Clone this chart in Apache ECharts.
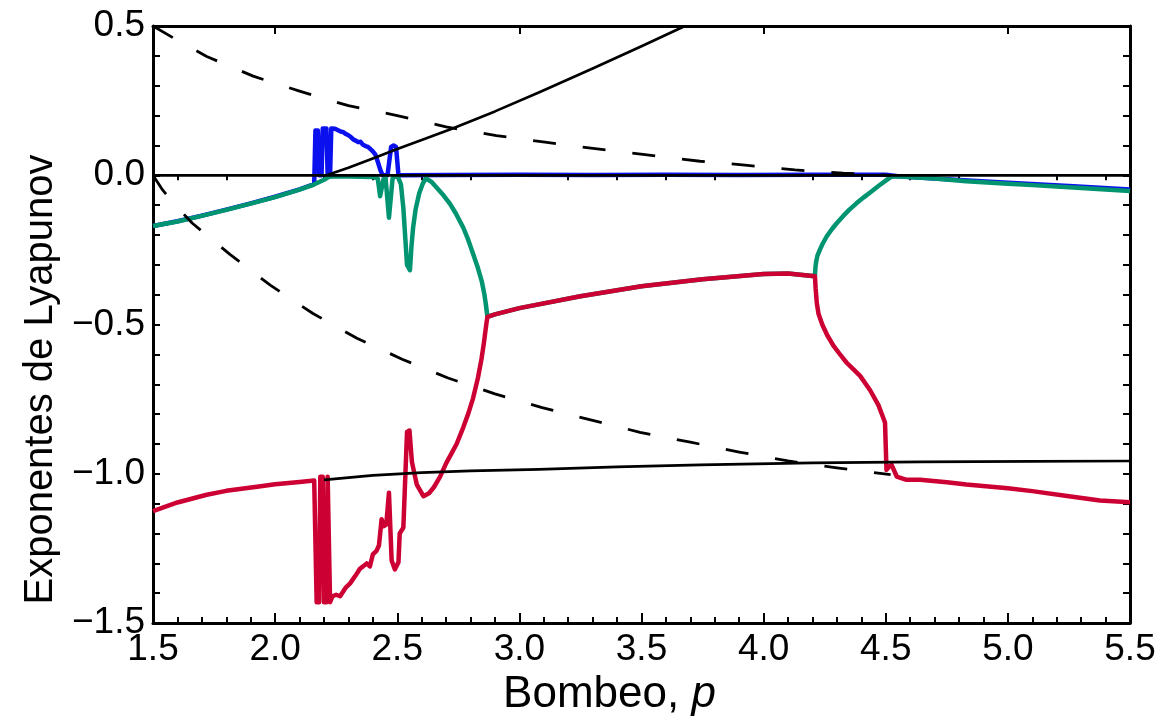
<!DOCTYPE html>
<html>
<head>
<meta charset="utf-8">
<script src="https://cdn.jsdelivr.net/npm/echarts@6/dist/echarts.min.js"></script>
<style>
  html, body { margin: 0; padding: 0; background: #fff; }
  #chart { width: 1164px; height: 722px; }
</style>
</head>
<body>
<div id="chart"></div>
<script>
// exponente 1 (azul)
const blueX = [1.5, 1.6, 1.7, 1.8, 1.9, 2.0, 2.1, 2.16, 2.165, 2.175, 2.18, 2.19, 2.195, 2.21, 2.215, 2.225, 2.23,
  2.245, 2.26, 2.27, 2.28, 2.29, 2.3, 2.31, 2.32, 2.33, 2.34, 2.35, 2.36, 2.37, 2.38, 2.39, 2.4, 2.41, 2.42, 2.43,
  2.44, 2.46, 2.475, 2.485, 2.495, 2.505, 2.7, 3.0, 3.3, 3.6, 3.9, 4.2, 4.5, 4.55, 4.8, 5.0, 5.25, 5.5];
const blueY = [-0.17, -0.154, -0.135, -0.115, -0.094, -0.072, -0.047, -0.03, 0.15, 0.15, 0.0, 0.0, 0.157, 0.157, 0.0, 0.0, 0.157,
  0.156, 0.15, 0.146, 0.144, 0.138, 0.134, 0.128, 0.12, 0.116, 0.111, 0.112, 0.102, 0.098, 0.095, 0.088, 0.08, 0.07, 0.046, 0.02,
  0.0, 0.0, 0.095, 0.1, 0.095, 0.0, 0.001, 0.002, 0.001, 0.002, 0.001, 0.002, 0.002, -0.003, -0.016, -0.025, -0.036, -0.048];

// exponente 2 (verde)
const greenX = [1.5, 1.6, 1.7, 1.8, 1.9, 2.0, 2.1, 2.15, 2.2, 2.22, 2.25, 2.3, 2.35, 2.4, 2.42, 2.43, 2.443, 2.452, 2.466,
  2.481, 2.49, 2.503, 2.515, 2.525, 2.54, 2.552, 2.558, 2.565, 2.575, 2.59, 2.605, 2.617, 2.64, 2.66, 2.69, 2.716, 2.74,
  2.77, 2.79, 2.81, 2.83, 2.846, 2.857, 2.864, 2.869,
  2.9, 3.0, 3.25, 3.5, 3.75, 4.0, 4.1, 4.21, 4.212, 4.215, 4.22, 4.23, 4.24, 4.258, 4.28, 4.3, 4.325, 4.35, 4.38, 4.41,
  4.44, 4.47, 4.5, 4.52, 4.54, 4.7, 4.83, 5.0, 5.1, 5.3, 5.5];
const greenY = [-0.17, -0.155, -0.136, -0.116, -0.095, -0.073, -0.048, -0.034, -0.015, -0.005, -0.003, -0.004, -0.005, -0.006, -0.01, -0.07, -0.015, -0.008, -0.142,
  -0.01, -0.004, -0.006, -0.03, -0.11, -0.3, -0.318, -0.24, -0.175, -0.115, -0.06, -0.027, -0.01, -0.022, -0.04, -0.068, -0.096, -0.128,
  -0.175, -0.215, -0.262, -0.31, -0.355, -0.4, -0.44, -0.474,
  -0.466, -0.445, -0.405, -0.372, -0.348, -0.331, -0.329, -0.338, -0.31, -0.29, -0.27, -0.25, -0.232, -0.205, -0.18, -0.16, -0.137, -0.116, -0.094, -0.074,
  -0.055, -0.036, -0.018, -0.006, -0.003, -0.011, -0.02, -0.028, -0.033, -0.043, -0.053];

// exponente 3 (rojo)
const redX = [1.5, 1.6, 1.72, 1.8, 1.926, 2.0, 2.1, 2.16, 2.17, 2.18, 2.185, 2.195, 2.2, 2.21, 2.215, 2.22, 2.225, 2.235,
  2.25, 2.266, 2.29, 2.307, 2.33, 2.347, 2.36, 2.375, 2.388, 2.4, 2.415, 2.425, 2.436, 2.445, 2.455, 2.466, 2.477, 2.49,
  2.505, 2.51, 2.525, 2.54, 2.55, 2.56, 2.58, 2.607, 2.63, 2.65, 2.675, 2.7, 2.72, 2.743, 2.77, 2.79, 2.81, 2.83, 2.845,
  2.855, 2.862, 2.869,
  2.9, 3.0, 3.25, 3.5, 3.75, 4.0, 4.1, 4.21, 4.213, 4.218, 4.225, 4.24, 4.26, 4.285, 4.31, 4.34, 4.37, 4.395, 4.436, 4.47,
  4.497, 4.503, 4.515, 4.524, 4.545, 4.585, 4.64, 4.75, 4.83, 5.0, 5.1, 5.25, 5.377, 5.5];
const redY = [-1.125, -1.096, -1.07, -1.057, -1.043, -1.035, -1.027, -1.022, -1.43, -1.43, -1.01, -1.01, -1.43, -1.43, -1.01, -1.01, -1.43, -1.41,
  -1.405, -1.41, -1.38, -1.367, -1.34, -1.318, -1.31, -1.3, -1.31, -1.27, -1.258, -1.24, -1.152, -1.175, -1.17, -1.063, -1.29, -1.32,
  -1.296, -1.2, -1.18, -0.86, -0.855, -0.96, -1.036, -1.075, -1.065, -1.045, -1.01, -0.965, -0.935, -0.9, -0.845, -0.8, -0.748, -0.68, -0.615,
  -0.56, -0.515, -0.474,
  -0.466, -0.445, -0.405, -0.372, -0.348, -0.331, -0.329, -0.338, -0.38, -0.43, -0.465, -0.5, -0.535, -0.57, -0.597, -0.628, -0.652, -0.672, -0.72, -0.77,
  -0.828, -0.987, -0.975, -0.97, -1.009, -1.02, -1.02, -1.028, -1.036, -1.048, -1.058, -1.075, -1.089, -1.095];

// curvas de referencia (negras)
const upperSolidX = [2.21, 2.3, 2.4, 2.5, 2.6, 2.724, 2.9, 3.084, 3.3, 3.5, 3.678];
const upperSolidY = [0.0, 0.025, 0.056, 0.088, 0.118, 0.156, 0.214, 0.279, 0.358, 0.432, 0.5];
const lowerSolidX = [2.2, 2.4, 2.6, 2.8, 3.08, 3.4, 3.74, 4.2, 4.64, 5.1, 5.5];
const lowerSolidY = [-1.02, -1.005, -0.996, -0.99, -0.985, -0.977, -0.97, -0.963, -0.96, -0.958, -0.957];
const upperDashX = [1.5, 1.6, 1.72, 1.91, 2.1, 2.3, 2.5, 2.7, 2.906, 3.105, 3.31, 3.506, 3.74, 3.924, 4.128, 4.326, 4.52];
const upperDashY = [0.5, 0.452, 0.398, 0.332, 0.282, 0.233, 0.2, 0.162, 0.133, 0.111, 0.089, 0.07, 0.047, 0.034, 0.018, 0.007, 0.0];
const lowerDashX = [1.5, 1.54, 1.58, 1.62, 1.66, 1.815, 1.98, 2.155, 2.335, 2.52, 2.708, 2.9, 3.093, 3.3, 3.494, 3.7, 3.9, 4.1, 4.3, 4.52];
const lowerDashY = [0.0, -0.05, -0.09, -0.125, -0.16, -0.265, -0.368, -0.463, -0.546, -0.616, -0.679, -0.732, -0.778, -0.821, -0.861, -0.894, -0.927, -0.957, -0.98, -1.003];
const zeroX = [1.5, 5.5];
const zeroY = [0, 0];

const topMajor = [2, 3, 4, 5];
const topMinor = [1.6, 1.8, 2.2, 2.4, 2.6, 2.8, 3.2, 3.4, 3.6, 3.8, 4.2, 4.4, 4.6, 4.8, 5.2, 5.4];

const zip = (xs, ys) => xs.map((x, i) => [x, ys[i]]);
const FONT = "'Liberation Sans', Arial, sans-serif";

let chart = echarts.init(document.getElementById("chart"), null, { renderer: "canvas" });

const frame = { show: true, onZero: false, lineStyle: { color: "#000", width: 3 } };

function curve(name, xs, ys, color, width, type) {
  return {
    name,
    type: "line",
    data: zip(xs, ys),
    symbol: "none",
    smooth: false,
    clip: true,
    lineStyle: { color, width, type: type || "solid", cap: "butt", join: "round" },
    emphasis: { disabled: true }
  };
}

let option = {
  animation: false,
  backgroundColor: "#fff",
  grid: { left: 153, right: 34, top: 26, bottom: 92 },
  xAxis: [
    {
      type: "value", position: "bottom", min: 1.5, max: 5.5, interval: 0.5,
      axisLine: frame,
      axisTick: { inside: true, length: 10, lineStyle: { color: "#000", width: 2 } },
      minorTick: { show: true, splitNumber: 5, length: 6, lineStyle: { color: "#000", width: 2 } },
      splitLine: { show: false },
      axisLabel: { fontSize: 37, color: "#000", fontFamily: FONT, margin: 8, formatter: v => v.toFixed(1) },
      name: "Bombeo, {i|p}",
      nameLocation: "middle",
      nameGap: 38,
      nameTextStyle: {
        fontSize: 44, color: "#000", fontFamily: FONT, padding: [0, 64, 0, 0],
        rich: { i: { fontSize: 44, fontStyle: "italic", fontFamily: FONT, color: "#000" } }
      }
    },
    {
      type: "value", position: "top", min: 1.5, max: 5.5,
      axisLine: frame,
      axisTick: { inside: true, length: 8, customValues: topMajor, lineStyle: { color: "#000", width: 2 } },
      axisLabel: { show: false },
      splitLine: { show: false }
    },
    {
      type: "value", position: "top", min: 1.5, max: 5.5,
      axisLine: { show: false },
      axisTick: { inside: true, length: 5, customValues: topMinor, lineStyle: { color: "#000", width: 2 } },
      axisLabel: { show: false },
      splitLine: { show: false }
    }
  ],
  yAxis: [
    {
      type: "value", position: "left", min: -1.5, max: 0.5, interval: 0.5,
      axisLine: frame,
      axisTick: { inside: true, length: 7, lineStyle: { color: "#000", width: 2 } },
      minorTick: { show: true, splitNumber: 5, length: 7, lineStyle: { color: "#000", width: 2 } },
      splitLine: { show: false },
      axisLabel: {
        fontSize: 37, color: "#000", fontFamily: FONT, margin: 8,
        formatter: v => v.toFixed(1).replace("-", "\u2212")
      },
      name: "Exponentes de Lyapunov",
      nameLocation: "middle",
      nameGap: 92,
      nameTextStyle: { fontSize: 40, color: "#000", fontFamily: FONT, padding: [0, 110, 0, 0] }
    },
    {
      type: "value", position: "right", min: -1.5, max: 0.5, interval: 0.1,
      axisLine: frame,
      axisTick: { inside: true, length: 7, lineStyle: { color: "#000", width: 2 } },
      axisLabel: { show: false },
      splitLine: { show: false }
    }
  ],
  series: [
    curve("λ1", blueX, blueY, "#0a10ee", 4.5),
    curve("λ2", greenX, greenY, "#009470", 4.5),
    curve("λ3", redX, redY, "#cc0033", 4.5),
    curve("cero", zeroX, zeroY, "#000", 2.7),
    curve("rama superior", upperSolidX, upperSolidY, "#000", 2.7),
    curve("rama inferior", lowerSolidX, lowerSolidY, "#000", 2.7),
    curve("cota superior", upperDashX, upperDashY, "#000", 2.8, [23, 27]),
    curve("cota inferior", lowerDashX, lowerDashY, "#000", 2.8, [23, 27])
  ]
};

chart.setOption(option);
window.addEventListener("resize", () => chart.resize(), false);
</script>
</body>
</html>
